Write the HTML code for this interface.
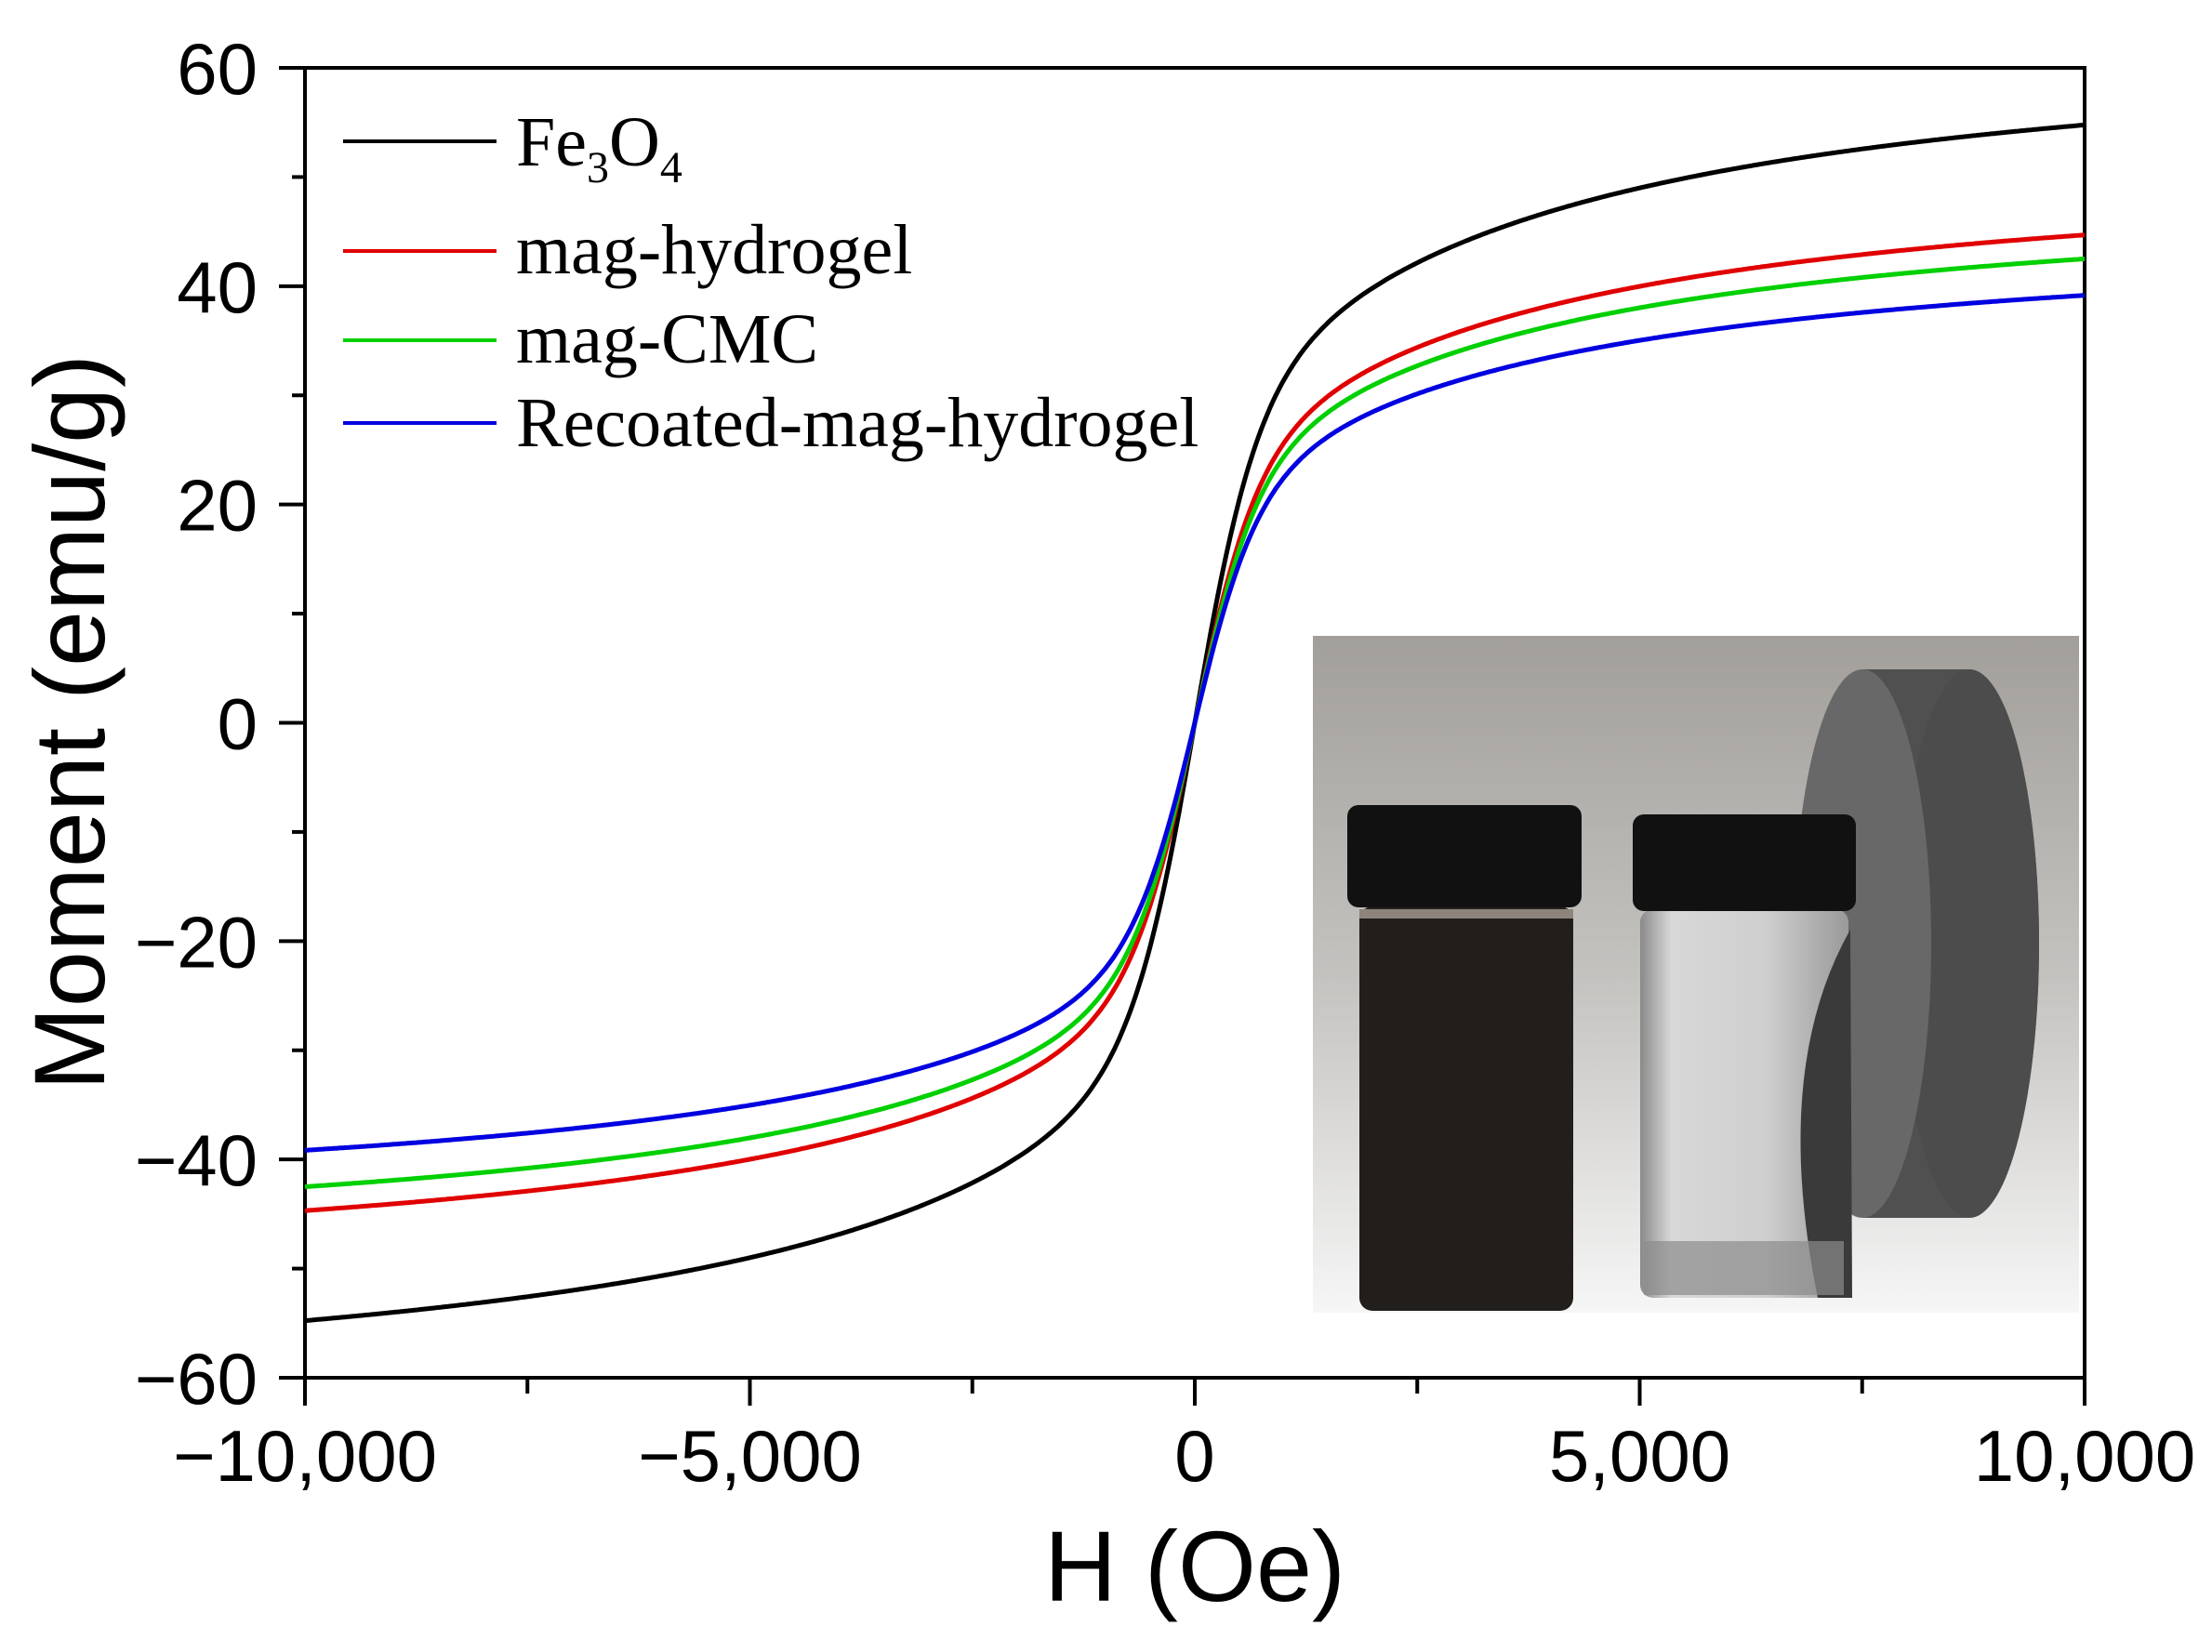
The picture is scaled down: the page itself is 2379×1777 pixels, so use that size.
<!DOCTYPE html>
<html><head><meta charset="utf-8"><style>
html,body{margin:0;padding:0;background:#fff;}
svg{display:block;}
</style></head><body>
<svg id="s" width="2379" height="1777" viewBox="0 0 2379 1777" xmlns="http://www.w3.org/2000/svg">
<defs>
<linearGradient id="bg" x1="0" y1="0" x2="0" y2="1">
<stop offset="0" stop-color="#a29f9b"/><stop offset="0.5" stop-color="#c4c2bf"/><stop offset="1" stop-color="#f6f6f6"/>
</linearGradient>
<linearGradient id="clear" x1="0" y1="0" x2="1" y2="0">
<stop offset="0" stop-color="#8a8a8a"/><stop offset="0.15" stop-color="#d8d8d8"/><stop offset="0.6" stop-color="#cfcfcf"/><stop offset="1" stop-color="#9a9a9a"/>
</linearGradient>
<clipPath id="ph"><rect x="1412" y="684" width="824" height="728"/></clipPath>
</defs>
<g clip-path="url(#ph)">
<rect x="1412" y="684" width="824" height="728" fill="url(#bg)"/>
<!-- magnet: band then face -->
<path d="M2003 720 L2118 720 A75 295 0 0 1 2118 1310 L2003 1310 Z" fill="#505050"/>
<ellipse cx="2118" cy="1015" rx="75" ry="295" fill="#4c4c4c"/>
<ellipse cx="2003" cy="1015" rx="74" ry="295" fill="#686868"/>
<!-- dark vial -->
<rect x="1462" y="975" width="230" height="435" rx="14" fill="#221e1b"/>
<rect x="1462" y="978" width="230" height="10" fill="#8d857c"/>
<rect x="1449" y="866" width="252" height="110" rx="12" fill="#111"/>
<!-- clear vial -->
<rect x="1764" y="978" width="224" height="418" rx="14" fill="url(#clear)"/>
<path d="M1990 1000 Q1905 1150 1955 1396 L1992 1396 Z" fill="#3a3a3a"/>
<rect x="1768" y="1335" width="215" height="58" fill="#8c8c8c" opacity="0.7"/>
<rect x="1756" y="876" width="240" height="104" rx="12" fill="#111"/>
</g>
<g stroke="#000" stroke-width="4" fill="none">
<rect x="328" y="73" width="1914" height="1409"/>
</g>
<g id="ticks" stroke="#000" stroke-width="4"></g>
<g id="curves" fill="none" stroke-width="5" stroke-linejoin="round"></g>
<g font-family="Liberation Sans, Arial, sans-serif" font-size="78" fill="#000" id="labels"></g>
<text x="1285" y="1722" font-family="Liberation Sans, Arial, sans-serif" font-size="108" text-anchor="middle">H (Oe)</text>
<text transform="translate(112,777) rotate(-90)" font-family="Liberation Sans, Arial, sans-serif" font-size="108" text-anchor="middle">Moment (emu/g)</text>
<g stroke-width="4">
<line x1="369" y1="152" x2="534" y2="152" stroke="#000"/>
<line x1="369" y1="270" x2="534" y2="270" stroke="#e00000"/>
<line x1="369" y1="366" x2="534" y2="366" stroke="#00d000"/>
<line x1="369" y1="455" x2="534" y2="455" stroke="#0000e0"/>
</g>
<g font-family="Liberation Serif, Times New Roman, serif" font-size="76" fill="#000">
<text x="555" y="178">Fe<tspan font-size="48" dy="18">3</tspan><tspan dy="-18">O</tspan><tspan font-size="48" dy="18">4</tspan></text>
<text x="555" y="294">mag-hydrogel</text>
<text x="555" y="390">mag-CMC</text>
<text x="555" y="480">Recoated-mag-hydrogel</text>
</g>
</svg>
<script>
(function(){
var NS="http://www.w3.org/2000/svg";
function X(h){return 328+(h+10000)/20000*1914;}
function Y(m){return 73+(60-m)/120*1409;}
function el(p,n,a){var e=document.createElementNS(NS,n);for(var k in a)e.setAttribute(k,a[k]);p.appendChild(e);return e;}
var t=document.getElementById('ticks'),L=document.getElementById('labels');
for(var v=-60;v<=60;v+=10){var y=Y(v),maj=v%20==0;el(t,'line',{x1:maj?300:314,y1:y,x2:328,y2:y});
 if(maj){var tx=el(L,'text',{x:277,y:y+28,'text-anchor':'end'});tx.textContent=(v<0?'\u2212':'')+Math.abs(v);}}
for(var h=-10000;h<=10000;h+=2500){var x=X(h),maj=h%5000==0;el(t,'line',{x1:x,y1:1482,x2:x,y2:maj?1512:1499});
 if(maj){var s=Math.abs(h).toLocaleString('en-US');var tx=el(L,'text',{x:x,y:1593,'text-anchor':'middle'});tx.textContent=(h<0?'\u2212':'')+s;}}
var c=document.getElementById('curves');
var ser=[['#000',1],['#e00000',0.816],['#00d000',0.776],['#0000e0',0.715]];
function M(H){return 24*Math.tanh(H/700)+40*H/(Math.abs(H)+3000);}
ser.forEach(function(s,i){var d='';
 for(var H=-10000;H<=10000;H+=25){var m=M(H)*s[1];d+=(H==-10000?'M':'L')+X(H).toFixed(1)+' '+Y(m).toFixed(1);}
 el(c,'path',{d:d,stroke:s[0]});});
})();
</script>
</body></html>
